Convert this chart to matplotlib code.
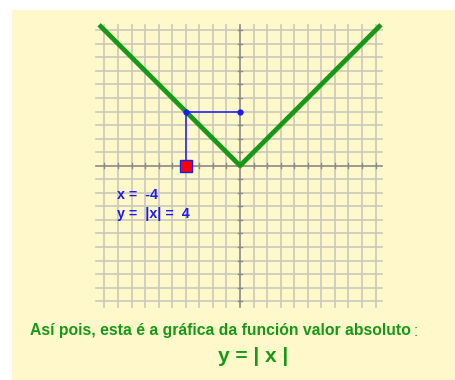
import matplotlib
matplotlib.use("Agg")
import matplotlib.pyplot as plt
from matplotlib.patches import Rectangle

# ------------------------------------------------------------------ #
# data
# ------------------------------------------------------------------ #
grid_vals = list(range(-10, 11))
v_x = [-10.4, 0.0, 10.4]
v_y = [10.4, 0.0, 10.4]
point_x = -4
point_y = 4
label_x = "x =  -4"
label_y = "y =  |x| =  4"
caption = "Así pois, esta é a gráfica da función valor absoluto"
formula = "y = | x |"

CLR_BG = "#fff8cb"
CLR_GRID = "#cbc8bc"
CLR_AXIS = "#8a8a86"
CLR_GREEN = "#159a15"
CLR_BLUE = "#1a1aff"

W, H = 455, 380
ORIGIN_X, ORIGIN_Y, UNIT = 240.0, 165.7, 13.55

fig = plt.figure(figsize=(W / 100, H / 100), dpi=100, facecolor="white")
fig.patches.append(Rectangle((12 / W, 0), 1, (H - 10) / H, transform=fig.transFigure,
                             facecolor=CLR_BG, edgecolor="none", zorder=-5))

ax = fig.add_axes([0, 0, 1, 1], zorder=2)
ax.set_xlim(-ORIGIN_X / UNIT, (W - ORIGIN_X) / UNIT)
ax.set_ylim((ORIGIN_Y - H) / UNIT, ORIGIN_Y / UNIT)
ax.axis("off")
ax.patch.set_alpha(0)

# grid
for g in grid_vals:
    if g == 0:
        continue
    ax.plot([g, g], [-10.4, 10.4], color=CLR_GRID, lw=1.2, zorder=1)
    ax.plot([-10.6, 10.45], [g, g], color=CLR_GRID, lw=1.2, zorder=1)

# axes + ticks
ax.plot([0, 0], [-10.4, 10.4], color=CLR_AXIS, lw=1.2, zorder=2)
ax.plot([-10.6, 10.45], [0, 0], color=CLR_AXIS, lw=1.2, zorder=2)
for g in grid_vals:
    ax.plot([g, g], [-0.18, 0.18], color=CLR_AXIS, lw=1.0, zorder=2)
    ax.plot([-0.18, 0.18], [g, g], color=CLR_AXIS, lw=1.0, zorder=2)

# y = |x|
ax.plot(v_x, v_y, color=CLR_GREEN, lw=3.4, solid_capstyle="butt", zorder=3)

# projection of the point
ax.plot([point_x, point_x, 0], [0, point_y, point_y], color=CLR_BLUE, lw=1.1, zorder=4)
ax.plot([point_x, 0], [point_y, point_y], "o", color=CLR_BLUE, ms=3.5, zorder=5)
ax.plot([point_x], [0], "s", color="#ff0000", mec=CLR_BLUE, mew=1.0, ms=8, zorder=6)

ax.text(-9.1, -2.16, label_x, color=CLR_BLUE, fontsize=10.3, fontweight="bold",
        family="Liberation Sans", va="center", ha="left")
ax.text(-9.1, -3.56, label_y, color=CLR_BLUE, fontsize=10.3, fontweight="bold",
        family="Liberation Sans", va="center", ha="left")

cap = fig.text(220 / W, 1 - 331 / H, caption, color=CLR_GREEN, fontsize=11.3, fontweight="bold",
               family="Liberation Sans", va="center", ha="center")
ax.annotate(":", xy=(1, 0.5), xycoords=cap, xytext=(2, 0), textcoords="offset points",
            color=CLR_GREEN, fontsize=11.3, family="Liberation Sans", va="center", ha="left")
fig.text(253 / W, 1 - 356 / H, formula, color=CLR_GREEN, fontsize=15, fontweight="bold",
         family="Liberation Sans", va="center", ha="center")

fig.savefig("out.png", dpi=100, facecolor="white")
